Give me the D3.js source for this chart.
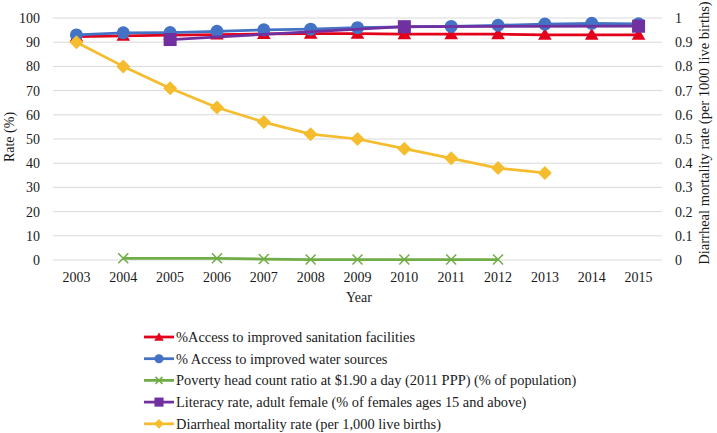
<!DOCTYPE html>
<html>
<head>
<meta charset="utf-8">
<script src="https://cdn.jsdelivr.net/npm/d3@7"></script>
<style>
  body { margin: 0; background: #fff; }
</style>
</head>
<body>
<svg id="chart" width="717" height="433"></svg>
<script>
// data
const years = [2003, 2004, 2005, 2006, 2007, 2008, 2009, 2010, 2011, 2012, 2013, 2014, 2015];
const sanitation = [92.3, 92.6, 92.9, 93.1, 93.4, 93.5, 93.5, 93.3, 93.3, 93.3, 93.0, 93.0, 93.0];
const water = [93.0, 93.9, 94.0, 94.5, 95.1, 95.4, 96.0, 96.3, 96.5, 97.0, 97.5, 97.8, 97.6];
const poverty = [null, 0.7, null, 0.7, 0.4, 0.2, 0.2, 0.2, 0.2, 0.2, null, null, null];
const literacy = [null, null, 91.1, null, null, null, null, 96.4, null, null, null, null, 96.6];
const diarrheal = [0.90, 0.80, 0.71, 0.63, 0.57, 0.52, 0.50, 0.46, 0.42, 0.38, 0.36, null, null];
const leftTicks = [0, 10, 20, 30, 40, 50, 60, 70, 80, 90, 100];
const rightTicks = [0, 0.1, 0.2, 0.3, 0.4, 0.5, 0.6, 0.7, 0.8, 0.9, 1];

const series = [
    { name: '%Access to improved sanitation facilities', values: sanitation, color: '#e2001a', marker: 'triangle', axis: 'left' },
    { name: '% Access to improved water sources', values: water, color: '#4472c4', marker: 'circle', axis: 'left' },
    { name: 'Poverty head count ratio at $1.90 a day (2011 PPP) (% of population)', values: poverty, color: '#70ad47', marker: 'cross', axis: 'left' },
    { name: 'Literacy rate, adult female (% of females ages 15 and above)', values: literacy, color: '#7030a0', marker: 'square', axis: 'left' },
    { name: 'Diarrheal mortality rate (per 1,000 live births)', values: diarrheal, color: '#f5bd2e', marker: 'diamond', axis: 'right' }
];

const FONT = '"Liberation Serif", "DejaVu Serif", serif';
const TEXT = '#1a1a1a';

const svg = d3.select('#chart')
    .attr('font-family', FONT);
const plot = { left: 53, right: 662, top: 18, bottom: 260 };

const x = d3.scaleBand().domain(years).range([plot.left, plot.right]);
const yLeft = d3.scaleLinear().domain([0, 100]).range([plot.bottom, plot.top]);
const yRight = d3.scaleLinear().domain([0, 1]).range([plot.bottom, plot.top]);
const cx = d => x(d) + x.bandwidth() / 2;

// gridlines
svg.append('g')
    .selectAll('line')
    .data(leftTicks)
    .enter().append('line')
    .attr('x1', plot.left).attr('x2', plot.right)
    .attr('y1', d => yLeft(d)).attr('y2', d => yLeft(d))
    .attr('stroke', '#d9d9d9').attr('stroke-width', 1);

function styleAxis(g) {
    g.attr('font-family', FONT).attr('font-size', 14);
    g.select('.domain').remove();
    g.selectAll('text').attr('fill', TEXT);
}

// left axis
svg.append('g')
    .attr('transform', `translate(${plot.left},0)`)
    .call(d3.axisLeft(yLeft).tickValues(leftTicks).tickSize(0).tickPadding(13))
    .call(styleAxis);

// right axis
svg.append('g')
    .attr('transform', `translate(${plot.right},0)`)
    .call(d3.axisRight(yRight).tickValues(rightTicks).tickSize(0).tickPadding(13).tickFormat(d3.format('~g')))
    .call(styleAxis);

// bottom axis
svg.append('g')
    .attr('transform', `translate(0,${plot.bottom})`)
    .call(d3.axisBottom(x).tickSize(0).tickPadding(12))
    .call(styleAxis);

// axis titles
svg.append('text')
    .attr('transform', `translate(14,137) rotate(-90)`)
    .attr('text-anchor', 'middle')
    .attr('font-size', 14).attr('fill', TEXT)
    .text('Rate (%)');

svg.append('text')
    .attr('transform', `translate(709,133) rotate(-90)`)
    .attr('text-anchor', 'middle')
    .attr('font-size', 14.5).attr('fill', TEXT)
    .text('Diarrheal mortality rate (per 1000 live births)');

svg.append('text')
    .attr('x', 359).attr('y', 302)
    .attr('text-anchor', 'middle')
    .attr('font-size', 14).attr('fill', TEXT)
    .text('Year');

function drawMarker(g, type, color, px, py, s) {
    if (type === 'circle') {
        g.append('circle').attr('cx', px).attr('cy', py).attr('r', 6.5 * s).attr('fill', color);
    } else if (type === 'square') {
        g.append('rect').attr('x', px - 6.5 * s).attr('y', py - 6.5 * s)
            .attr('width', 13 * s).attr('height', 13 * s).attr('fill', color);
    } else if (type === 'triangle') {
        g.append('path')
            .attr('d', d3.symbol().type(d3.symbolTriangle).size(80 * s * s)())
            .attr('transform', `translate(${px},${py + 1})`)
            .attr('fill', color);
    } else if (type === 'diamond') {
        const r = 7 * s;
        g.append('path')
            .attr('d', `M${px},${py - r}L${px + r},${py}L${px},${py + r}L${px - r},${py}Z`)
            .attr('fill', color);
    } else if (type === 'cross') {
        const r = 5 * s;
        g.append('path')
            .attr('d', `M${px - r},${py - r}L${px + r},${py + r}M${px - r},${py + r}L${px + r},${py - r}`)
            .attr('stroke', color).attr('stroke-width', 1.5).attr('fill', 'none');
    }
}

// series
series.forEach(s => {
    const yScale = s.axis === 'left' ? yLeft : yRight;
    const pts = years.map((yr, i) => ({ yr: yr, v: s.values[i] })).filter(p => p.v !== null);
    const line = d3.line().x(p => cx(p.yr)).y(p => yScale(p.v));
    const g = svg.append('g');
    g.append('path')
        .datum(pts)
        .attr('d', line)
        .attr('fill', 'none')
        .attr('stroke', s.color)
        .attr('stroke-width', 2.75)
        .attr('stroke-linejoin', 'round');
    pts.forEach(p => drawMarker(g, s.marker, s.color, cx(p.yr), yScale(p.v), 1));
});

// legend
const legend = svg.append('g');
series.forEach((s, i) => {
    const ly = 337 + i * 21.7;
    legend.append('line')
        .attr('x1', 144).attr('x2', 174)
        .attr('y1', ly).attr('y2', ly)
        .attr('stroke', s.color).attr('stroke-width', 2.75);
    drawMarker(legend, s.marker, s.color, 159, ly, 0.7);
    legend.append('text')
        .attr('x', 176).attr('y', ly)
        .attr('dy', '0.35em')
        .attr('font-size', 14.4).attr('fill', TEXT)
        .text(s.name);
});
</script>
</body>
</html>
